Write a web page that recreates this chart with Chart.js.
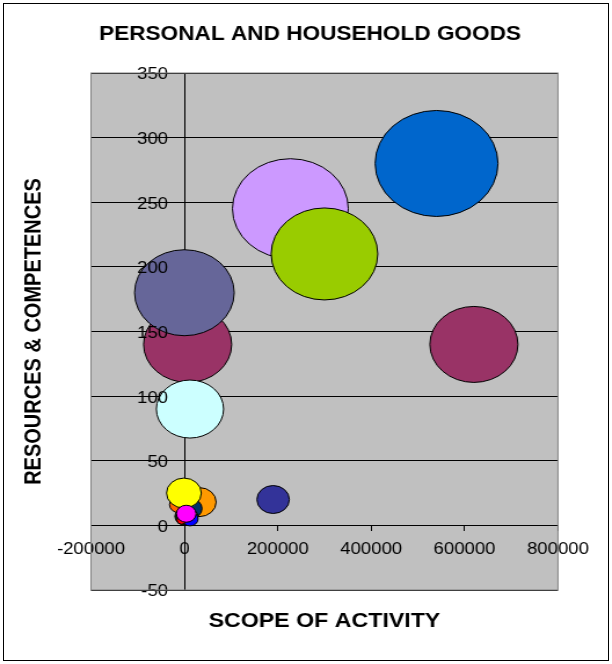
<!DOCTYPE html>
<html>
<head>
<meta charset="utf-8">
<script src="https://cdn.jsdelivr.net/npm/chart.js@4/dist/chart.umd.min.js"></script>
<style>
  body { margin: 0; background: #fff; }
  #frame { position: absolute; left: 3px; top: 3px; width: 604px; height: 656px; border: 1px solid #000; }
  #wrap { position: absolute; left: 0; top: 0; width: 528px; height: 664px; transform: scaleX(1.159); transform-origin: 0 0; }
</style>
</head>
<body>
<div id="frame"></div>
<div id="wrap"><canvas id="myChart" width="528" height="664"></canvas></div>
<script>
// bubbles, in drawing order (last one ends up on top)
var scope  = [227000, 300000, 540000, 620000, 7000, 0, 12000, 190000, 32000, -12000, 13000, -1000, 2000, 12000, 12000, -6000, 4000];
var res    = [245, 210, 280, 140, 140, 180, 90, 20, 18, 16, 13, 25, 7, 7, 5, 4, 9];
var sizes  = [50, 46, 53, 38, 38, 43, 29, 14, 14.5, 8, 10, 15, 9, 7, 7, 4, 8.5];
var colors = ['#CC99FF', '#99CC00', '#0066CC', '#993366', '#993366', '#666699', '#CCFFFF', '#333399',
              '#FF9900', '#FF6600', '#003366', '#FFFF00', '#003300', '#339966', '#0000FF', '#FF0000', '#FF00FF'];

var xTicks = [-200000, 0, 200000, 400000, 600000, 800000];
var yTicks = [-50, 0, 50, 100, 150, 200, 250, 300, 350];

var chartTitle = 'PERSONAL AND HOUSEHOLD GOODS';
var xTitle = 'SCOPE OF ACTIVITY';
var yTitle = 'RESOURCES & COMPETENCES';

var points = [];
for (var i = 0; i < scope.length; i++) {
  points.push({x: scope[i], y: res[i], r: sizes[i]});
}

var labelFont = { family: '"Liberation Sans", Arial, sans-serif', size: 16 };
var fixTicks = function(list) {
  return function(axis) { axis.ticks = list.map(function(v) { return {value: v}; }); };
};
var plainNum = function(v) { return String(v); };

var plotBack = {
  id: 'plotBack',
  beforeDraw: function(chart) {
    var a = chart.chartArea, c = chart.ctx;
    c.save();
    c.fillStyle = '#C0C0C0';
    c.fillRect(a.left, a.top, a.right - a.left, a.bottom - a.top);
    c.restore();
  },
  afterDraw: function(chart) {
    var a = chart.chartArea, c = chart.ctx;
    c.save();
    c.strokeStyle = '#808080';
    c.lineWidth = 1;
    c.strokeRect(a.left, a.top, a.right - a.left, a.bottom - a.top);
    c.fillStyle = '#000';
    c.textAlign = 'center';
    c.textBaseline = 'middle';
    c.font = 'bold 19.5px "Liberation Sans", Arial, sans-serif';
    c.fillText(chartTitle, 267.5, 35);
    c.font = 'bold 20px "Liberation Sans", Arial, sans-serif';
    c.fillText(xTitle, (a.left + a.right) / 2, 621);
    c.translate(29, (a.top + a.bottom) / 2);
    c.rotate(-Math.PI / 2);
    c.fillText(yTitle, 0, 0);
    c.restore();
  }
};

var ctx = document.getElementById('myChart');
var myChart = new Chart(ctx, {
  type: 'bubble',
  data: {
    datasets: [{
      data: points,
      backgroundColor: colors,
      borderColor: '#000',
      borderWidth: 1
    }]
  },
  options: {
    responsive: false,
    animation: false,
    devicePixelRatio: 1,
    layout: {
      autoPadding: false,
      padding: { left: 78.5, right: 46.6, top: 73, bottom: 74 }
    },
    plugins: {
      legend: { display: false },
      tooltip: { enabled: false }
    },
    scales: {
      x: {
        type: 'linear',
        position: { y: 0 },
        min: xTicks[0],
        max: xTicks[xTicks.length - 1],
        afterBuildTicks: fixTicks(xTicks),
        afterFit: function(axis) { axis.paddingLeft = 0; axis.paddingRight = 0; },
        ticks: {
          color: '#000',
          font: labelFont,
          padding: 10,
          maxRotation: 0,
          callback: plainNum
        },
        grid: { drawOnChartArea: false, color: '#000', tickLength: 5 },
        border: { color: '#000' }
      },
      y: {
        type: 'linear',
        position: { x: 0 },
        min: yTicks[0],
        max: yTicks[yTicks.length - 1],
        afterBuildTicks: fixTicks(yTicks),
        afterFit: function(axis) { axis.paddingTop = 0; axis.paddingBottom = 0; },
        ticks: { display: false },
        grid: { color: '#000', tickLength: 5 },
        border: { color: '#000' }
      },
      // labels of the y axis, a little left of it and drawn above the bubbles
      yLabels: {
        type: 'linear',
        axis: 'y',
        position: { x: -35000 },
        min: yTicks[0],
        max: yTicks[yTicks.length - 1],
        afterBuildTicks: fixTicks(yTicks),
        afterFit: function(axis) { axis.paddingTop = 0; axis.paddingBottom = 0; },
        ticks: {
          z: 1,
          color: '#000',
          font: labelFont,
          labelOffset: 2,
          callback: plainNum
        },
        grid: { drawOnChartArea: false, drawTicks: false },
        border: { display: false }
      }
    }
  },
  plugins: [plotBack]
});
</script>
</body>
</html>
